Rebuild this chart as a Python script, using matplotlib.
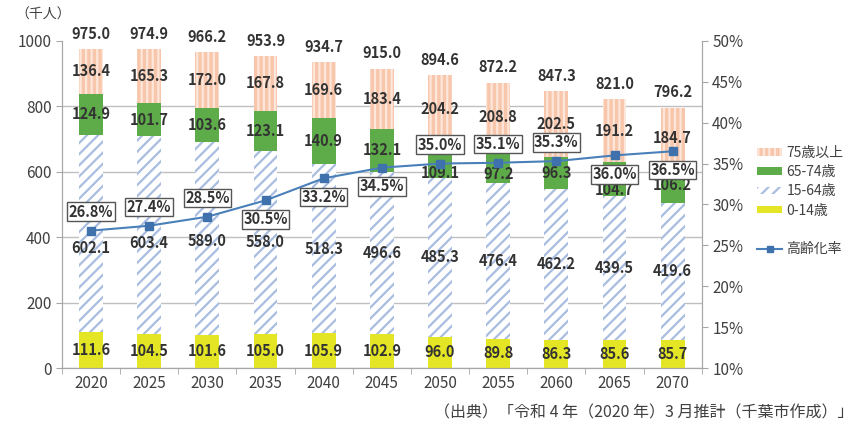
import matplotlib
matplotlib.use('Agg')
import matplotlib.pyplot as plt
import numpy as np
from matplotlib.patches import Patch
from matplotlib.lines import Line2D

plt.rcParams['font.family'] = ['Noto Sans CJK JP', 'DejaVu Sans']
plt.rcParams['hatch.linewidth'] = 1.6

years = ['2020', '2025', '2030', '2035', '2040', '2045', '2050', '2055', '2060', '2065', '2070']
age_0_14 = [111.6, 104.5, 101.6, 105.0, 105.9, 102.9, 96.0, 89.8, 86.3, 85.6, 85.7]
age_15_64 = [602.1, 603.4, 589.0, 558.0, 518.3, 496.6, 485.3, 476.4, 462.2, 439.5, 419.6]
age_65_74 = [124.9, 101.7, 103.6, 123.1, 140.9, 132.1, 109.1, 97.2, 96.3, 104.7, 106.2]
age_75 = [136.4, 165.3, 172.0, 167.8, 169.6, 183.4, 204.2, 208.8, 202.5, 191.2, 184.7]
totals = [975.0, 974.9, 966.2, 953.9, 934.7, 915.0, 894.6, 872.2, 847.3, 821.0, 796.2]
aging_rate = [26.8, 27.4, 28.5, 30.5, 33.2, 34.5, 35.0, 35.1, 35.3, 36.0, 36.5]

# label box above (+1) or below (-1) the point
box_side = [1, 1, 1, -1, -1, -1, 1, 1, 1, -1, -1]
# small manual nudges (points, positive = down) so labels clear the line
nudge_15 = [11, 6, 2, 0, 0, 0, 0, 0, 0, 0, 0]
nudge_65 = [0, 0, 0, 0, 0, 0, 9.5, 5, 0, 8, 0]

c_75 = '#f8c6ab'
c_65 = '#5dab49'
c_15 = '#a9bde0'
c_0 = '#e4e625'
c_line = '#4a80ba'
txt = '#333333'
axis_c = '#a6a6a6'

fig = plt.figure(figsize=(8.6, 4.3), dpi=100)
ax = fig.add_axes([0.072, 0.144, 0.744, 0.761])
x = np.arange(len(years))
w = 0.41

s0 = np.array(age_0_14)
s1 = s0 + np.array(age_15_64)
s2 = s1 + np.array(age_65_74)

ax.bar(x, age_0_14, w, color=c_0, lw=0, zorder=2)
ax.bar(x, age_15_64, w, bottom=s0, color='white', edgecolor=c_15, hatch='///', lw=0, zorder=2)
ax.bar(x, age_65_74, w, bottom=s1, color=c_65, lw=0, zorder=2)
ax.bar(x, age_75, w, bottom=s2, color=c_75, edgecolor='#fde6da', hatch='|||', lw=0, zorder=2)

fs = 10.5
lab = dict(ha='center', va='center', fontsize=fs, fontweight='bold', color=txt,
           textcoords='offset points', zorder=4)
for i in range(len(years)):
    ax.annotate(f'{age_0_14[i]:.1f}', (x[i], age_0_14[i] / 2), xytext=(0, 0), **lab)
    ax.annotate(f'{age_15_64[i]:.1f}', (x[i], s0[i] + age_15_64[i] / 2), xytext=(0, -nudge_15[i]), **lab)
    ax.annotate(f'{age_65_74[i]:.1f}', (x[i], s1[i] + age_65_74[i] / 2), xytext=(0, -nudge_65[i]), **lab)
    ax.annotate(f'{age_75[i]:.1f}', (x[i], s2[i] + age_75[i] / 2), xytext=(0, 0), **lab)
    ax.annotate(f'{totals[i]:.1f}', (x[i], totals[i]), xytext=(0, 11), **lab)

ax.set_xlim(-0.5, 10.5)
ax.set_ylim(0, 1000)
ax.set_yticks(range(0, 1001, 200))
ax.set_xticks(x)
ax.set_xticklabels(years)
ax.set_xticks(np.arange(-0.5, 10.6, 1), minor=True)
ax.tick_params(axis='x', which='major', length=0, labelsize=11, labelcolor='#404040', pad=5)
ax.tick_params(axis='x', which='minor', length=4, color=axis_c)
ax.tick_params(axis='y', length=4, color=axis_c, labelsize=11, labelcolor='#404040')
ax.grid(axis='y', color='#bfbfbf', lw=1, zorder=0)
ax.get_ygridlines()[-1].set_visible(False)
ax.set_axisbelow(True)
for s in ['left', 'right', 'bottom']:
    ax.spines[s].set_color(axis_c)
ax.spines['top'].set_visible(False)

ax2 = ax.twinx()
ax2.plot(x, aging_rate, color=c_line, lw=1.5, marker='s', markersize=5.5,
         markerfacecolor='#3f72ad', markeredgecolor='#3f72ad', zorder=5)
ax2.set_ylim(10, 50)
ax2.set_yticks(range(10, 51, 5))
ax2.set_yticklabels([f'{v}%' for v in range(10, 51, 5)])
ax2.tick_params(axis='y', length=4, color=axis_c, labelsize=11, labelcolor='#404040')
for s in ['left', 'right', 'bottom']:
    ax2.spines[s].set_color(axis_c)
ax2.spines['top'].set_visible(False)

for i in range(len(years)):
    ax2.annotate(f'{aging_rate[i]:.1f}%', (x[i], aging_rate[i]), xytext=(0, 13.5 * box_side[i]),
                 textcoords='offset points', ha='center', va='center', fontsize=10.5,
                 fontweight='bold', color=txt, zorder=6,
                 bbox=dict(boxstyle='square,pad=0.1', fc='white', ec='#555555', lw=1))

handles = [
    Patch(facecolor=c_75, edgecolor='#fde6da', hatch='|||', lw=0),
    Patch(facecolor=c_65, lw=0),
    Patch(facecolor='white', edgecolor=c_15, hatch='///', lw=0),
    Patch(facecolor=c_0, lw=0),
    Line2D([], [], color='none'),
    Line2D([], [], color=c_line, lw=1.5, marker='s', markersize=5, markerfacecolor='#3f72ad', markeredgecolor='#3f72ad'),
]
labels = ['75歳以上', '65-74歳', '15-64歳', '0-14歳', '', '高齢化率']
fig.legend(handles, labels, loc='upper left', bbox_to_anchor=(0.866, 0.69), frameon=False,
           fontsize=10, handlelength=1.8, handleheight=0.45, labelspacing=0.38,
           handletextpad=0.3, labelcolor='#404040')

fig.text(0.018, 0.965, '（千人）', ha='left', va='center', fontsize=10, color='#404040')
fig.text(0.992, 0.04, '（出典）「令和 4 年（2020 年）3 月推計（千葉市作成）」', ha='right', va='center',
         fontsize=11.5, color='#404040')

fig.savefig('out.png', dpi=100)
